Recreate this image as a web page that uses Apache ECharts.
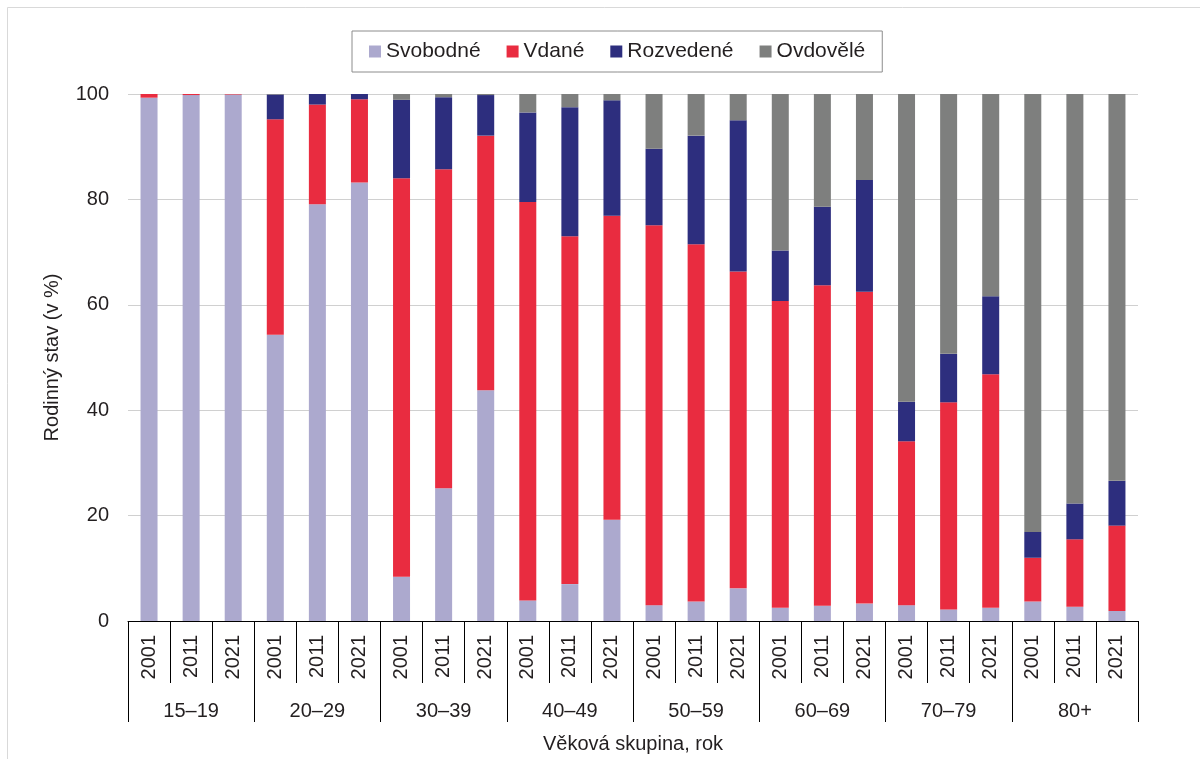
<!DOCTYPE html>
<html>
<head>
<meta charset="utf-8">
<script src="https://cdn.jsdelivr.net/npm/echarts@6/dist/echarts.min.js"></script>
<style>
  html, body { margin: 0; padding: 0; background: #ffffff; }
  #chart { width: 1200px; height: 759px; }
</style>
</head>
<body>
<div id="chart"></div>
<script>
// categories
const years = ['2001', '2011', '2021'];
const groups = ['15–19', '20–29', '30–39', '40–49', '50–59', '60–69', '70–79', '80+'];
const categories = [
    '2001', '2011', '2021', '2001', '2011', '2021', '2001', '2011', '2021', '2001', '2011', '2021',
    '2001', '2011', '2021', '2001', '2011', '2021', '2001', '2011', '2021', '2001', '2011', '2021'
];

// values in %
const svobodne = [99.3, 99.8, 99.9, 54.3, 79.1, 83.2, 8.4, 25.2, 43.8, 3.9, 7.0, 19.2,
    3.0, 3.7, 6.2, 2.5, 2.9, 3.3, 3.0, 2.2, 2.5, 3.7, 2.7, 1.9];
const vdane = [0.7, 0.2, 0.1, 40.9, 18.9, 15.8, 75.6, 60.5, 48.3, 75.6, 66.0, 57.7,
    72.1, 67.8, 60.1, 58.2, 60.8, 59.2, 31.1, 39.3, 44.3, 8.3, 12.8, 16.2];
const rozvedene = [0, 0, 0, 4.7, 2.0, 1.0, 14.9, 13.7, 7.7, 17.0, 24.5, 21.9,
    14.5, 20.6, 28.7, 9.6, 14.9, 21.2, 7.5, 9.2, 14.8, 4.9, 6.8, 8.5];
const ovdovele = [0, 0, 0, 0.1, 0, 0, 1.1, 0.6, 0.2, 3.5, 2.5, 1.2,
    10.4, 7.9, 5.0, 29.7, 21.4, 16.3, 58.4, 49.3, 38.4, 83.1, 77.7, 73.4];

const yTicks = [0, 20, 40, 60, 80, 100];

const textColor = '#231f20';
const font = 'Liberation Sans, Arial, sans-serif';

const chart = echarts.init(document.getElementById('chart'));

function barSeries(name, data, color) {
    return {
        name: name,
        type: 'bar',
        stack: 'total',
        barWidth: 17,
        xAxisIndex: 0,
        itemStyle: { color: color },
        data: data
    };
}

const option = {
    backgroundColor: '#ffffff',
    animation: false,
    textStyle: { fontFamily: font, color: textColor },
    graphic: [{
        type: 'rect',
        shape: { x: 7.5, y: 7.5, width: 1300, height: 800 },
        style: { fill: 'none', stroke: '#d9d9d9', lineWidth: 1 },
        silent: true,
        z: -10
    }],
    legend: {
        left: 352,
        top: 31,
        padding: [10, 17],
        borderColor: '#8c8c8c',
        borderWidth: 1,
        itemWidth: 12,
        itemHeight: 12,
        itemGap: 26,
        icon: 'rect',
        textStyle: { fontSize: 21, color: textColor, fontFamily: font },
        data: ['Svobodné', 'Vdané', 'Rozvedené', 'Ovdovělé']
    },
    grid: { left: 128, right: 62, top: 94, bottom: 136 },
    xAxis: [
        {
            type: 'category',
            data: categories,
            position: 'bottom',
            axisLine: { lineStyle: { color: '#000000', width: 1 } },
            axisTick: { show: true, interval: 0, length: 62, lineStyle: { color: '#000000' } },
            axisLabel: {
                interval: 0,
                rotate: 90,
                margin: 14,
                fontSize: 20,
                color: textColor,
                fontFamily: font
            }
        },
        {
            type: 'category',
            data: groups,
            position: 'bottom',
            axisLine: { show: false },
            axisTick: { show: true, interval: 0, length: 101, lineStyle: { color: '#000000' } },
            axisLabel: {
                interval: 0,
                margin: 80,
                fontSize: 20,
                color: textColor,
                fontFamily: font
            },
            name: 'Věková skupina, rok',
            nameLocation: 'middle',
            nameGap: 113,
            nameTextStyle: { fontSize: 20, color: textColor, fontFamily: font }
        }
    ],
    yAxis: {
        type: 'value',
        min: yTicks[0],
        max: yTicks[yTicks.length - 1],
        interval: 20,
        name: 'Rodinný stav (v %)',
        nameLocation: 'middle',
        nameGap: 66,
        nameTextStyle: { fontSize: 20, color: textColor, fontFamily: font },
        axisLine: { show: false },
        axisTick: { show: false },
        axisLabel: { fontSize: 20, margin: 19, color: textColor, fontFamily: font },
        splitLine: { lineStyle: { color: '#d0d0d0', width: 1 } }
    },
    series: [
        barSeries('Svobodné', svobodne, '#aca9ce'),
        barSeries('Vdané', vdane, '#e92c40'),
        barSeries('Rozvedené', rozvedene, '#2d2e7e'),
        barSeries('Ovdovělé', ovdovele, '#7e7f7e')
    ]
};
chart.setOption(option);
</script>
</body>
</html>
